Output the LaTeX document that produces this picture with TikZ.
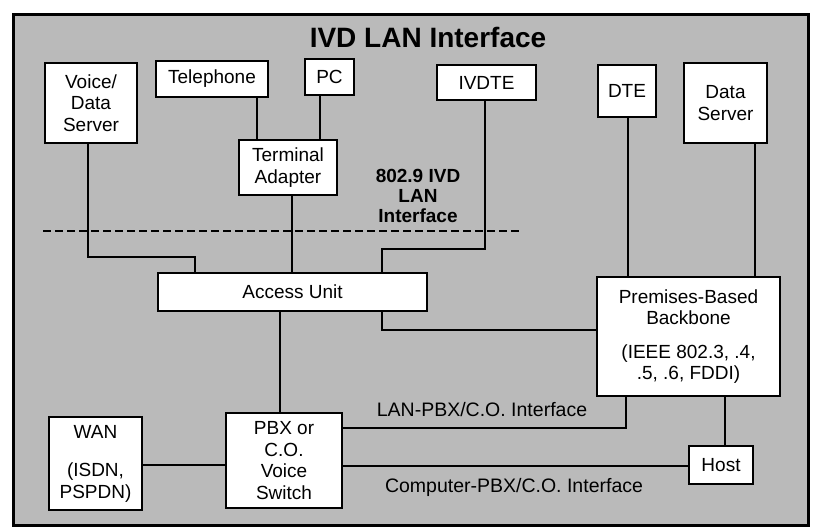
\documentclass[tikz,border=0pt]{standalone}
\usepackage{fontspec}
\setmainfont{Liberation Sans}
\begin{document}
\begin{tikzpicture}[x=1pt,y=-1pt,
  box/.style={draw=black,line width=2.4pt,fill=white,inner sep=0pt,align=center,
    font=\fontsize{19}{21.5}\selectfont},
  wire/.style={draw=black,line width=2pt},
  lbl/.style={inner sep=0pt,align=center,font=\fontsize{19.5}{20}\selectfont},
  lblb/.style={inner sep=0pt,align=center,font=\bfseries\fontsize{19}{20}\selectfont}]
\useasboundingbox (0,0) rectangle (817,531);
\draw[line width=3pt,fill=black!27] (13,14) rectangle (808,525);
\node[inner sep=0pt,font=\bfseries\fontsize{28}{30}\selectfont] (title) at (428,37) {IVD LAN Interface};

% boxes
\node[box,minimum width=92pt,minimum height=80pt] (vds) at (91,103) {Voice/\\Data\\Server};
\node[box,minimum width=112pt,minimum height=36pt] (tel) at (212,79) {Telephone};
\node[box,minimum width=49pt,minimum height=36pt] (pc) at (329.5,77) {PC};
\node[box,minimum width=98pt,minimum height=55pt] (ta) at (288,167.5) {Terminal\\Adapter};
\node[box,minimum width=99pt,minimum height=35pt] (ivdte) at (486.5,82.5) {IVDTE};
\node[box,minimum width=58pt,minimum height=52pt] (dte) at (627,91) {DTE};
\node[box,minimum width=83pt,minimum height=80pt] (ds) at (725.5,103) {Data\\Server};
\node[box,minimum width=269pt,minimum height=38pt] (au) at (292.5,292) {Access Unit};
\node[box,minimum width=183pt,minimum height=119pt] (bb) at (688.5,336.5) {Premises-Based\\Backbone\\[12pt](IEEE 802.3, .4,\\.5, .6, FDDI)};
\node[box,minimum width=93pt,minimum height=93pt] (wan) at (95.5,463.5) {WAN\\[17pt](ISDN,\\PSPDN)};
\node[box,minimum width=116pt,minimum height=95pt] (pbx) at (284,460.5) {PBX or\\C.O.\\Voice\\Switch};
\node[box,minimum width=64pt,minimum height=38pt] (host) at (721,465) {Host};

% labels
\node[lblb] (l8029) at (418,196) {802.9 IVD\\LAN\\Interface};
\node[lbl] (llan) at (482,410) {LAN-PBX/C.O. Interface};
\node[lbl] (lcomp) at (514,487) {Computer-PBX/C.O. Interface};

% dashed interface line
\coordinate (dL) at (43,231);
\coordinate (dR) at (520,231);
\draw[line width=2pt,dash pattern=on 8pt off 4pt] (dL) -- (dR);

% connectors
\coordinate (j1) at (195,257);
\coordinate (j2) at (382,249);
\draw[wire] (88,0 |- vds.south) |- (j1) -- (j1 |- au.north);
\draw[wire] (257,0 |- tel.south) -- (257,0 |- ta.north);
\draw[wire] (320,0 |- pc.south) -- (320,0 |- ta.north);
\draw[wire] (292,0 |- ta.south) -- (292,0 |- au.north);
\draw[wire] (485,0 |- ivdte.south) |- (j2) -- (j2 |- au.north);
\draw[wire] (382,0 |- au.south) |- (bb.west |- 0,330);
\draw[wire] (628,0 |- dte.south) -- (628,0 |- bb.north);
\draw[wire] (755,0 |- ds.south) -- (755,0 |- bb.north);
\draw[wire] (280,0 |- au.south) -- (280,0 |- pbx.north);
\draw[wire] (pbx.east |- 0,428) -| (626,0 |- bb.south);
\draw[wire] (pbx.east |- 0,466) -- (host.west |- 0,466);
\draw[wire] (725,0 |- bb.south) -- (725,0 |- host.north);
\draw[wire] (wan.east |- 0,465) -- (pbx.west |- 0,465);
\end{tikzpicture}
\end{document}
